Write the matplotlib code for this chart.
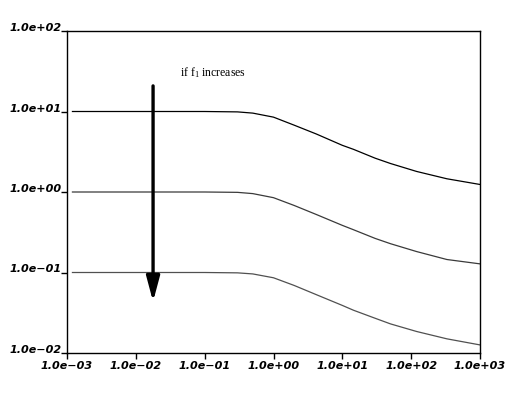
import matplotlib
matplotlib.use("Agg")
import matplotlib.pyplot as plt
from matplotlib.ticker import FixedLocator, FixedFormatter, NullLocator

# data
freq = [1.2e-3, 1e-2, 0.1, 0.3, 0.5, 1.0, 2.0, 4.2, 10, 14.5, 30, 50, 120, 330, 1000]
curve_high = [10, 10, 10, 9.89, 9.55, 8.51, 6.76, 5.25, 3.80, 3.39, 2.63, 2.26, 1.80, 1.46, 1.24]
curve_mid = [1.0, 1.0, 1.0, 0.99, 0.955, 0.85, 0.68, 0.525, 0.385, 0.34, 0.265, 0.228, 0.182, 0.145, 0.128]
curve_low = [0.1, 0.1, 0.1, 0.099, 0.096, 0.086, 0.069, 0.053, 0.039, 0.034, 0.027, 0.023, 0.0185, 0.0150, 0.0126]

x_ticks = [1e-3, 1e-2, 1e-1, 1e0, 1e1, 1e2, 1e3]
x_labels = ["1.0e\u221203", "1.0e\u221202", "1.0e\u221201", "1.0e+00", "1.0e+01", "1.0e+02", "1.0e+03"]
y_ticks = [1e-2, 1e-1, 1e0, 1e1, 1e2]
y_labels = ["1.0e\u221202", "1.0e\u221201", "1.0e+00", "1.0e+01", "1.0e+02"]

arrow_x = 0.0178
arrow_top, arrow_tip = 20.8, 0.0434
note = r"if $\mathrm{f}_1$ increases"

plt.rcParams["mathtext.fontset"] = "custom"
plt.rcParams["mathtext.rm"] = "Liberation Serif"
plt.rcParams["mathtext.it"] = "Liberation Serif:italic"

fig = plt.figure(figsize=(5.22, 3.95), dpi=100)
ax = fig.add_axes([67 / 522, 1 - 353 / 395, 413 / 522, 322 / 395])

ax.plot(freq, curve_high, color="black", lw=0.9)
ax.plot(freq, curve_mid, color="#3a3a3a", lw=0.9)
ax.plot(freq, curve_low, color="#505050", lw=0.9)

ax.set_xscale("log"); ax.set_yscale("log")
ax.set_xlim(1e-3, 1e3); ax.set_ylim(1e-2, 1e2)

ax.xaxis.set_major_locator(FixedLocator(x_ticks))
ax.xaxis.set_major_formatter(FixedFormatter(x_labels))
ax.yaxis.set_major_locator(FixedLocator(y_ticks))
ax.yaxis.set_major_formatter(FixedFormatter(y_labels))
ax.xaxis.set_minor_locator(NullLocator())
ax.yaxis.set_minor_locator(NullLocator())

ax.tick_params(direction="out", length=4, width=1.0, pad=2, labelsize=8)
ax.tick_params(axis="y", pad=0)
for lab in ax.get_xticklabels() + ax.get_yticklabels():
    lab.set_fontstyle("oblique")
    lab.set_fontweight("bold")
for lab in ax.get_yticklabels():
    lab.set_va("baseline")
for sp in ax.spines.values():
    sp.set_linewidth(1.0)

ax.annotate("", xy=(arrow_x, arrow_tip), xytext=(arrow_x, arrow_top),
            arrowprops=dict(arrowstyle="-|>,head_length=0.75,head_width=0.2",
                            mutation_scale=20, lw=2.4, color="black",
                            shrinkA=0, shrinkB=0))
ax.text(0.132, 30, note, ha="center", va="center", fontsize=8.5,
        family="Liberation Serif")

fig.savefig("out.png", dpi=100)
